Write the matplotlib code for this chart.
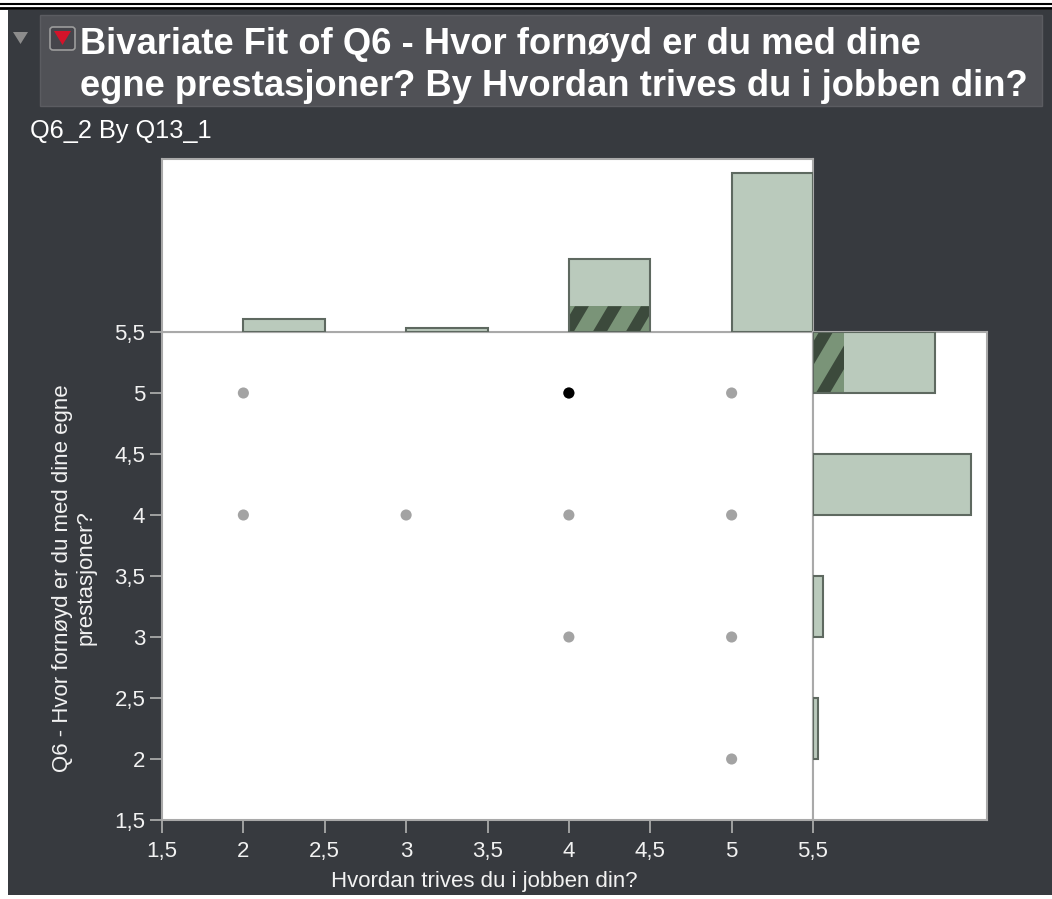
"""
JMP-style bivariate fit: Q6_2 (satisfaction with own performance) by
Q13_1 (how well you thrive at work), with marginal histograms.
"""

import matplotlib
matplotlib.use("Agg")
import matplotlib.pyplot as plt
from matplotlib.lines import Line2D
from matplotlib.patches import FancyBboxPatch, Polygon, Rectangle
from matplotlib.transforms import IdentityTransform


# ── data ─────────────────────────────────────────────────────────────────────

X_VALUES = [2, 2, 3, 4, 4, 4, 5, 5, 5, 5]
Y_VALUES = [5, 4, 4, 5, 4, 3, 5, 4, 3, 2]
SELECTED_X = [4]
SELECTED_Y = [5]

BIN_LEFT = [2.0, 3.0, 4.0, 5.0]
BIN_WIDTH = 0.5
X_COUNTS = [3, 1, 17, 37]
X_SELECTED = [0, 0, 6, 0]
Y_COUNTS = [1, 2, 31, 24]
Y_SELECTED = [0, 0, 0, 6]

TICKS = [1.5, 2, 2.5, 3, 3.5, 4, 4.5, 5, 5.5]
TICK_LABELS = ["1,5", "2", "2,5", "3", "3,5", "4", "4,5", "5", "5,5"]

TITLE_1 = "Bivariate Fit of Q6 - Hvor fornøyd er du med dine"
TITLE_2 = "egne prestasjoner? By Hvordan trives du i jobben din?"
SUBTITLE = "Q6_2 By Q13_1"
X_LABEL = "Hvordan trives du i jobben din?"
Y_LABEL = "Q6 - Hvor fornøyd er du med dine egne\nprestasjoner?"


# ── style ────────────────────────────────────────────────────────────────────

W, H = 1052, 899
DARK = "#373a3f"
HEADER = "#505156"
AXIS_GREY = "#a9a9a9"
TEXT = "#f2f2f2"
BAR_FACE = "#bacabc"
BAR_EDGE = "#5e6960"
SEL_FACE = "#7a9478"
SEL_STRIPE = "#3c4a3c"
DOT_GREY = "#a3a3a3"

plt.rcParams["font.family"] = ["Liberation Sans", "DejaVu Sans"]


def fx(px):
    return px / W


def fy(py):
    return 1 - py / H


def add_ax(fig, left, top, right, bottom):
    return fig.add_axes([fx(left), fy(bottom), fx(right) - fx(left), fy(top) - fy(bottom)])


def grey_frame(ax):
    for sp in ax.spines.values():
        sp.set_color(AXIS_GREY)
        sp.set_linewidth(1.5)


def add_stripes(ax, patch, period=33, width=14, slant=16):
    """Diagonal dark stripes clipped to a bar, in pixel space."""
    bb = patch.get_window_extent()
    dx = slant * bb.height / 27
    x = bb.x0 - dx - period + 6
    while x < bb.x1 + period:
        poly = Polygon([(x, bb.y0), (x + width, bb.y0),
                        (x + width + dx, bb.y1), (x + dx, bb.y1)],
                       closed=True, transform=IdentityTransform(),
                       facecolor=SEL_STRIPE, edgecolor="none", zorder=3)
        ax.add_artist(poly)
        # add_artist resets the clip to the axes patch, so clip afterwards
        poly.set_clip_path(patch)
        x += period


# ── chrome ───────────────────────────────────────────────────────────────────

def draw_chrome(fig):
    fig.add_artist(Rectangle((fx(8), fy(895)), fx(W) - fx(8), fy(10) - fy(895),
                             transform=fig.transFigure, facecolor=DARK,
                             edgecolor="none", zorder=-10))
    for y, lw in [(4, 1.5), (8, 2.0)]:
        fig.add_artist(Line2D([0, 1], [fy(y), fy(y)], transform=fig.transFigure,
                              color="black", lw=lw))
    fig.add_artist(Rectangle((fx(40), fy(106)), fx(1042) - fx(40), fy(15) - fy(106),
                             transform=fig.transFigure, facecolor=HEADER,
                             edgecolor="#5b5c61", lw=1, zorder=-5))
    # disclosure triangle
    fig.add_artist(Polygon([(fx(13), fy(32)), (fx(28), fy(32)), (fx(20.5), fy(44))],
                           transform=fig.transFigure, facecolor="#8c8c8c",
                           edgecolor="none"))
    # red menu icon
    fig.add_artist(FancyBboxPatch((fx(50), fy(50)), fx(75) - fx(50), fy(27) - fy(50),
                                  boxstyle="round,pad=0,rounding_size=0.003",
                                  transform=fig.transFigure, facecolor="#45454b",
                                  edgecolor="#9c9c9c", lw=1.2))
    fig.add_artist(Polygon([(fx(54), fy(31)), (fx(71), fy(31)), (fx(62.5), fy(45))],
                           transform=fig.transFigure, facecolor="#d3132a",
                           edgecolor="none"))

    fig.text(fx(80), fy(54), TITLE_1, color="white", fontsize=26.2,
             fontweight="bold", ha="left", va="baseline")
    fig.text(fx(80), fy(96), TITLE_2, color="white", fontsize=26.2,
             fontweight="bold", ha="left", va="baseline")
    fig.text(fx(30), fy(138), SUBTITLE, color="white", fontsize=18.3,
             ha="left", va="baseline")


# ── plots ────────────────────────────────────────────────────────────────────

def plot_scatter(ax):
    ax.set_facecolor("white")
    ax.scatter(X_VALUES, Y_VALUES, s=64, color=DOT_GREY, edgecolors="none", zorder=3)
    ax.scatter(SELECTED_X, SELECTED_Y, s=64, color="black", edgecolors="none", zorder=4)
    ax.set_xlim(1.5, 5.5)
    ax.set_ylim(1.5, 5.5)
    ax.set_xticks(TICKS)
    ax.set_xticklabels(TICK_LABELS)
    ax.set_yticks(TICKS)
    ax.set_yticklabels(TICK_LABELS)
    ax.tick_params(direction="out", length=9, width=1.3, color=AXIS_GREY,
                   labelcolor=TEXT, labelsize=16)
    ax.tick_params(axis="y", pad=3)
    ax.tick_params(axis="x", pad=6)
    grey_frame(ax)
    ax.set_xlabel(X_LABEL, color=TEXT, fontsize=16, va="center")
    ax.xaxis.set_label_coords((484 - 162) / 651, (820 - 881) / 488)
    ax.set_ylabel(Y_LABEL, color=TEXT, fontsize=16, va="center",
                  multialignment="center", linespacing=1.15)
    ax.yaxis.set_label_coords((74 - 162) / 651, (820 - 578) / 488)


def plot_top_hist(ax):
    ax.set_facecolor("white")
    ax.bar(BIN_LEFT, X_COUNTS, width=BIN_WIDTH, align="edge",
           color=BAR_FACE, edgecolor="none", zorder=2)
    ax.set_xlim(1.5, 5.5)
    ax.set_ylim(0, 40.3)
    bars = ax.bar(BIN_LEFT, X_SELECTED, width=BIN_WIDTH, align="edge",
                  color=SEL_FACE, edgecolor="none", zorder=2.5)
    for b, n in zip(bars, X_SELECTED):
        if n > 0:
            add_stripes(ax, b)
    # outlines drawn last so they sit over the highlighted part
    ax.bar(BIN_LEFT, X_COUNTS, width=BIN_WIDTH, align="edge", fill=False,
           edgecolor=BAR_EDGE, linewidth=1.5, zorder=4)
    ax.set_xticks([])
    ax.set_yticks([])
    grey_frame(ax)


def plot_right_hist(ax):
    ax.set_facecolor("white")
    ax.barh(BIN_LEFT, Y_COUNTS, height=BIN_WIDTH, align="edge",
            color=BAR_FACE, edgecolor="none", zorder=2)
    ax.set_ylim(1.5, 5.5)
    ax.set_xlim(0, 34.1)
    bars = ax.barh(BIN_LEFT, Y_SELECTED, height=BIN_WIDTH, align="edge",
                   color=SEL_FACE, edgecolor="none", zorder=2.5)
    for b, n in zip(bars, Y_SELECTED):
        if n > 0:
            add_stripes(ax, b)
    ax.barh(BIN_LEFT, Y_COUNTS, height=BIN_WIDTH, align="edge", fill=False,
            edgecolor=BAR_EDGE, linewidth=1.5, zorder=4)
    ax.set_xticks([])
    ax.set_yticks([])
    grey_frame(ax)


# ── main ─────────────────────────────────────────────────────────────────────

def main() -> None:
    fig = plt.figure(figsize=(W / 100, H / 100), dpi=100, facecolor="white")
    draw_chrome(fig)

    ax_main = add_ax(fig, 162, 332, 813, 820)
    ax_top = add_ax(fig, 162, 159, 813, 332)
    ax_right = add_ax(fig, 813, 332, 987, 820)

    plot_scatter(ax_main)
    plot_top_hist(ax_top)
    plot_right_hist(ax_right)

    fig.savefig("out.png", dpi=100, facecolor="white")
    plt.close(fig)


if __name__ == "__main__":
    main()
